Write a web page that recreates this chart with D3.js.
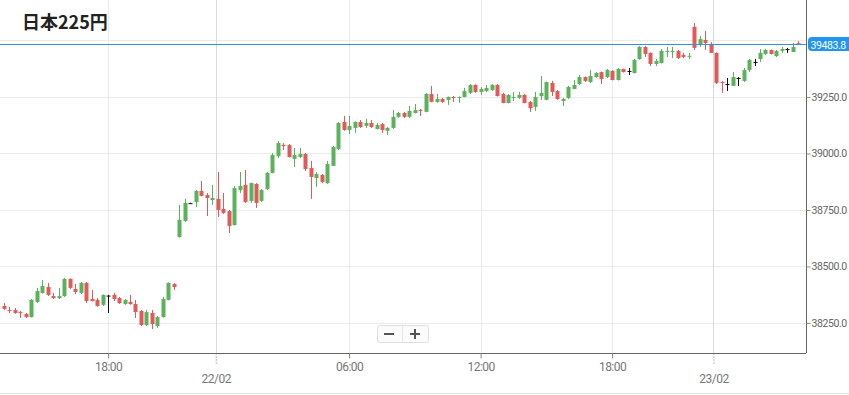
<!DOCTYPE html>
<html>
<head>
<meta charset="utf-8">
<script src="https://cdn.jsdelivr.net/npm/d3@7/dist/d3.min.js"></script>
<style>
  body { margin: 0; background: #fff; }
  svg { display: block; font-family: Roboto, "Noto Sans", sans-serif; }
</style>
</head>
<body>
<div id="chart-wrapper"></div>
<script>
// 15 minute candles, session gaps removed (x is the candle index)
const opens = [38325,38307,38307,38298,38290,38276,38343,38383,38409,38369,38360,38369,38445,38400,38383,38427,38356,38352,38330,38371,38374,38360,38334,38343,38334,38303,38241,38294,38236,38276,38352,38422,
  38630,38701,38780,38785,38834,38816,38794,38799,38754,38745,38683,38838,38861,38790,38865,38790,38843,38914,38988,39038,39037,38976,38984,38998,38936,38891,38905,38869,38945,39020,39139,39104,39113,39139,39122,39135,39108,39130,39100,39113,39162,39179,39162,39179,39192,
  39184,39263,39228,39241,39237,39250,39246,39250,39268,39303,39272,39276,39281,39303,39263,39223,39246,39246,39259,39228,39206,39254,39237,39312,39276,39232,39246,39285,39307,39338,39316,39338,39360,39338,39365,39325,39374,39365,39356,39418,39471,39445,39396,39400,39449,39449,39454,39436,39430,
  39560,39480,39502,39480,39445,39316,39307,39299,39334,39321,39369,39405,39418,39440,39458,39431,39454,39462,39449,39488];
const highs = [38338,38321,38316,38303,38294,38356,38405,38440,38427,38383,38405,38449,38447,38422,38431,38431,38396,38360,38376,38374,38383,38365,38356,38374,38352,38307,38307,38307,38281,38365,38429,38427,
  38772,38799,38782,38838,38878,38825,38861,38918,38825,38750,38856,38918,38927,38871,38869,38843,38918,39002,39055,39046,39042,39024,39024,39002,38967,38918,38909,38967,39033,39139,39166,39166,39142,39148,39153,39148,39135,39135,39117,39192,39184,39184,39210,39219,39197,
  39268,39299,39263,39246,39252,39254,39252,39290,39307,39306,39294,39303,39307,39307,39268,39263,39272,39272,39263,39232,39272,39343,39318,39321,39281,39246,39299,39325,39347,39340,39369,39360,39362,39374,39369,39378,39375,39378,39418,39476,39476,39447,39418,39462,39471,39471,39458,39445,39445,
  39577,39520,39542,39493,39447,39321,39334,39360,39338,39378,39418,39418,39462,39462,39460,39458,39471,39467,39489,39497];
const lows = [38307,38294,38290,38272,38272,38274,38338,38380,38369,38356,38356,38365,38400,38378,38378,38338,38345,38321,38325,38294,38347,38334,38330,38330,38272,38236,38236,38223,38228,38274,38350,38396,
  38628,38697,38778,38763,38810,38723,38772,38719,38732,38648,38681,38825,38781,38781,38759,38785,38838,38912,38980,39015,38982,38940,38980,38922,38799,38852,38869,38865,38945,39015,39100,39086,39091,39113,39113,39113,39106,39091,39082,39108,39157,39157,39157,39177,39166,
  39182,39226,39224,39224,39215,39228,39224,39248,39263,39268,39259,39272,39276,39252,39222,39222,39232,39241,39222,39184,39188,39237,39235,39254,39237,39210,39241,39285,39303,39316,39312,39334,39307,39334,39323,39323,39358,39347,39354,39414,39427,39387,39387,39398,39427,39422,39418,39422,39418,
  39458,39471,39458,39444,39307,39268,39276,39298,39298,39316,39360,39387,39405,39436,39438,39427,39445,39445,39449,39483.8];
const closes = [38312,38303,38294,38294,38276,38352,38391,38414,38374,38360,38369,38445,38405,38387,38427,38347,38347,38325,38374,38371,38356,38338,38352,38334,38298,38241,38298,38245,38276,38356,38427,38409,
  38706,38781,38780,38834,38812,38803,38803,38750,38737,38679,38847,38856,38785,38869,38781,38838,38914,38993,39046,39033,38984,38993,38998,38931,38896,38909,38874,38953,39029,39135,39104,39122,39139,39117,39135,39117,39126,39104,39113,39162,39179,39162,39188,39192,39188,
  39263,39228,39241,39228,39250,39246,39250,39276,39303,39272,39285,39290,39303,39254,39223,39259,39250,39259,39223,39201,39250,39268,39316,39272,39241,39241,39294,39303,39338,39321,39343,39356,39329,39369,39325,39374,39360,39365,39414,39471,39440,39396,39409,39454,39454,39454,39422,39427,39432,
  39467,39506,39489,39445,39312,39312,39307,39338,39334,39369,39414,39405,39445,39458,39440,39454,39462,39462,39471,39483.8];

const lastPrice = 39483.8;
const gridTicks = [38250, 38500, 38750, 39000, 39250, 39500];
const priceTicks = [38250, 38500, 38750, 39000, 39250]; // 39500 label sits under the last price tag
const timeTickIdx = [19, 63, 87, 111];
const timeTickLabels = ["18:00", "06:00", "12:00", "18:00"];
const dateTickIdx = [38.65, 129.5];
const dateTickLabels = ["22/02", "23/02"];
const title = "日本225円";

const initChart = () => {
  const data = opens.map((o, i) => ({ i: i, o: o, h: highs[i], l: lows[i], c: closes[i] }));

  const fullWidth = 849, fullHeight = 395;
  const plotW = 806, plotH = 353;

  const xScale = d3.scaleLinear().domain([-0.73, 146.4]).range([0, plotW]);
  const yScale = d3.scaleLinear().domain([38117, 39679]).range([plotH, 0]);

  const svg = d3.select("#chart-wrapper").append("svg")
    .attr("width", fullWidth)
    .attr("height", fullHeight);

  svg.append("rect").attr("width", fullWidth).attr("height", fullHeight).attr("fill", "#fff");

  // grid
  svg.append("g").selectAll("line").data(gridTicks).enter().append("line")
    .attr("x1", 0).attr("x2", plotW)
    .attr("y1", d => Math.round(yScale(d)) + 0.5).attr("y2", d => Math.round(yScale(d)) + 0.5)
    .attr("stroke", "#ebebeb");
  svg.append("g").selectAll("line").data(timeTickIdx).enter().append("line")
    .attr("x1", d => Math.round(xScale(d)) + 0.5).attr("x2", d => Math.round(xScale(d)) + 0.5)
    .attr("y1", 0).attr("y2", plotH)
    .attr("stroke", "#ebebeb");
  svg.append("g").selectAll("line").data(dateTickIdx).enter().append("line")
    .attr("x1", d => Math.round(xScale(d)) + 0.5).attr("x2", d => Math.round(xScale(d)) + 0.5)
    .attr("y1", 0).attr("y2", plotH)
    .attr("stroke", "#d9d9d9");

  // candles
  const colorOf = d => d.c > d.o ? "#5cb25c" : (d.c < d.o ? "#e05a5a" : "#111");
  const candles = svg.append("g").selectAll("g").data(data).enter().append("g");
  candles.append("line")
    .attr("x1", d => Math.round(xScale(d.i)) + 0.5)
    .attr("x2", d => Math.round(xScale(d.i)) + 0.5)
    .attr("y1", d => yScale(d.h))
    .attr("y2", d => yScale(d.l))
    .attr("stroke", colorOf);
  candles.append("rect")
    .attr("x", d => Math.round(xScale(d.i)) - 1.5)
    .attr("width", 4)
    .attr("y", d => yScale(Math.max(d.o, d.c)))
    .attr("height", d => Math.max(1, yScale(Math.min(d.o, d.c)) - yScale(Math.max(d.o, d.c))))
    .attr("fill", colorOf);

  // current price line
  const py = Math.round(yScale(lastPrice)) + 0.5;
  svg.append("line").attr("x1", 0).attr("x2", plotW).attr("y1", py).attr("y2", py)
    .attr("stroke", "#3b91d4").attr("stroke-width", 1);

  // y axis
  const yAxis = svg.append("g")
    .attr("transform", `translate(${plotW + 0.5},0)`)
    .call(d3.axisRight(yScale).tickValues(priceTicks).tickSize(4).tickFormat(d3.format(".1f")));
  yAxis.select(".domain").attr("d", `M0,0V${plotH}`).attr("stroke", "#666");
  yAxis.selectAll(".tick line").attr("stroke", "#888");
  yAxis.selectAll(".tick text").attr("x", 5).attr("fill", "#666").attr("font-size", 10.5)
    .attr("font-family", "Roboto, sans-serif").attr("letter-spacing", "-0.4px");

  // x axis: times
  const xAxis = svg.append("g")
    .attr("transform", `translate(0,${plotH + 0.5})`)
    .call(d3.axisBottom(xScale).tickValues(timeTickIdx).tickSize(5)
      .tickFormat((d, k) => timeTickLabels[k]));
  xAxis.select(".domain").attr("d", `M0,0H${plotW}`).attr("stroke", "#666");
  xAxis.selectAll(".tick line").attr("stroke", "#888");
  xAxis.selectAll(".tick text").attr("y", 9).attr("fill", "#777").attr("font-size", 12)
    .attr("font-family", "Roboto, sans-serif").attr("letter-spacing", "-0.5px");

  // x axis: dates (dotted ticks)
  const dAxis = svg.append("g")
    .attr("transform", `translate(0,${plotH + 0.5})`)
    .call(d3.axisBottom(xScale).tickValues(dateTickIdx).tickSize(11)
      .tickFormat((d, k) => dateTickLabels[k]));
  dAxis.select(".domain").remove();
  dAxis.selectAll(".tick line").attr("stroke", "#777").attr("stroke-dasharray", "1,2");
  dAxis.selectAll(".tick text").attr("y", 21).attr("fill", "#777").attr("font-size", 12)
    .attr("font-family", "Roboto, sans-serif").attr("letter-spacing", "-0.5px");

  // last price label
  svg.append("rect").attr("x", 808).attr("y", py - 7.5).attr("width", 44).attr("height", 14)
    .attr("rx", 4).attr("fill", "#2196f0");
  svg.append("text").attr("x", 810.5).attr("y", py + 4).attr("fill", "#fff")
    .attr("font-size", 10.5).attr("letter-spacing", "-0.4px")
    .attr("font-family", "Roboto, sans-serif").text(d3.format(".1f")(lastPrice));

  // zoom buttons
  const zb = svg.append("g").attr("transform", "translate(377,325)");
  zb.append("rect").attr("x", 0.5).attr("y", 0.5).attr("width", 51).attr("height", 17).attr("rx", 2)
    .attr("fill", "#fbfbfb").attr("stroke", "#e0e0e0");
  zb.append("line").attr("x1", 25.5).attr("x2", 25.5).attr("y1", 1).attr("y2", 17).attr("stroke", "#e6e6e6");
  zb.append("rect").attr("x", 7).attr("y", 8).attr("width", 10).attr("height", 2).attr("fill", "#555");
  zb.append("rect").attr("x", 33).attr("y", 8).attr("width", 10).attr("height", 2).attr("fill", "#555");
  zb.append("rect").attr("x", 37).attr("y", 4).attr("width", 2).attr("height", 10).attr("fill", "#555");

  // bottom border
  svg.append("line").attr("x1", 0).attr("x2", fullWidth).attr("y1", 393.5).attr("y2", 393.5).attr("stroke", "#e3e3e3");

  // title
  svg.append("text").attr("x", 22).attr("y", 29)
    .attr("font-family", "'Noto Sans CJK JP', sans-serif").attr("font-weight", "bold")
    .attr("font-size", 18).attr("fill", "#222").text(title);
}

window.onload = () => {
  initChart();
}
</script>
</body>
</html>
